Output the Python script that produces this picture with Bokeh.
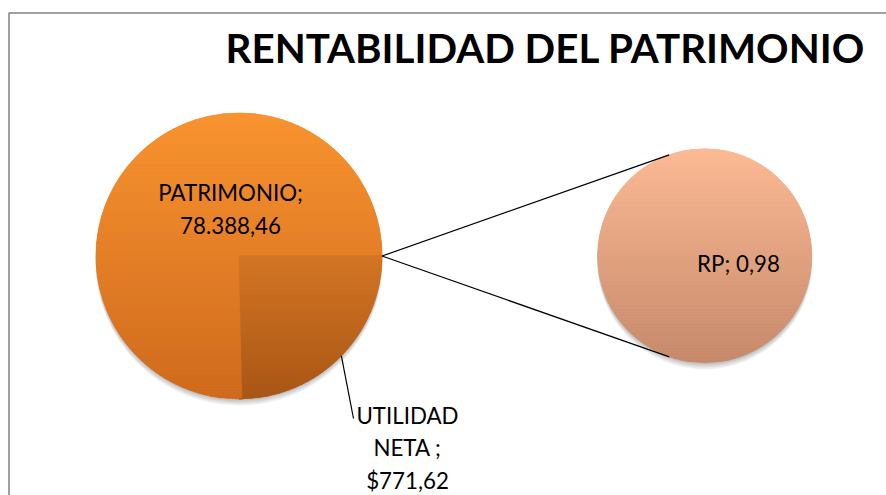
import numpy as np
from bokeh.plotting import figure
from bokeh.models import Range1d
from bokeh.core.properties import value
from bokeh.embed import file_html
from bokeh.resources import INLINE

# ---------------- data ----------------
title = "RENTABILIDAD DEL PATRIMONIO"
main_names = ["PATRIMONIO", "UTILIDAD NETA"]
main_values = [78388.46, 771.62]
main_prefix = ["", "$"]
main_shares = [0.754, 0.246]          # slice sizes as drawn in the picture
sec_names = ["RP"]
sec_values = [0.98]


def fmt(v):
    s = f"{v:,.2f}"
    return s.replace(",", "X").replace(".", ",").replace("X", ".")


# ---------------- layout ----------------
W, H = 886, 495
cx1, cy1, r1 = 238.5, H - 255.5, 143.0
cx2, cy2, r2 = 704.2, H - 255.3, 107.0
FONT = "Lato"

p = figure(width=W, height=H, output_backend="svg", toolbar_location=None,
           x_range=Range1d(0, W), y_range=Range1d(0, H), min_border=0)
p.axis.visible = False
p.grid.visible = False
p.outline_line_color = None
p.background_fill_color = "white"
p.border_fill_color = "white"

# chart border (left and top edges visible)
p.line(x=[8.5, 8.5, W], y=[0, H - 12.5, H - 12.5], line_color="#a0a0a0", line_width=2)


def hexcol(c):
    return "#%02x%02x%02x" % tuple(int(round(v)) for v in c)


def lerp(c0, c1, t):
    return [c0[i] + (c1[i] - c0[i]) * t for i in range(3)]


# shadows
for cx, cy, r in [(cx1, cy1, r1), (cx2, cy2, r2)]:
    for k in range(1, 8):
        p.circle(x=[cx], y=[cy - k * 0.9], radius=r + 0.5, fill_color="black",
                 fill_alpha=0.035, line_color=None)

# base wedges from the data shares
ang = np.concatenate([[0], np.cumsum(main_shares)]) * 2 * np.pi
base_cols = ["#e6812a", "#c66a1f"]
for i in range(len(main_shares)):
    p.wedge(x=[cx1], y=[cy1], radius=r1, start_angle=ang[i], end_angle=ang[i + 1],
            fill_color=base_cols[i], line_color=None)
p.circle(x=[cx2], y=[cy2], radius=r2, fill_color="#e4a27f", line_color=None)

# gradient strips for the main pie
top_main, bot_main = (249, 148, 48), (207, 106, 30)
top_dark, bot_dark = (255, 150, 50), (168, 86, 22)
a_b = ang[1]  # boundary ray between slice 0 and slice 1 (below center)
step = 1.5
xs, ys, cols = [], [], []
yy = np.arange(cy1 - r1, cy1 + r1, step)
for y0 in yy:
    y1 = min(y0 + step, cy1 + r1)
    c0 = np.sqrt(max(r1 ** 2 - (y0 - cy1) ** 2, 0))
    c1 = np.sqrt(max(r1 ** 2 - (y1 - cy1) ** 2, 0))
    t = 1 - ((y0 + y1) / 2 - (cy1 - r1)) / (2 * r1)
    cm = hexcol(lerp(top_main, bot_main, t))
    cd = hexcol(lerp(top_dark, bot_dark, t))
    if y0 >= cy1:
        xs.append([cx1 - c0, cx1 + c0, cx1 + c1, cx1 - c1])
        ys.append([y0, y0, y1, y1])
        cols.append(cm)
    else:
        d0, d1 = cy1 - y0, cy1 - y1
        k = np.cos(a_b) / (-np.sin(a_b))
        b0, b1 = cx1 + d0 * k, cx1 + max(d1, 0) * k
        xs.append([cx1 - c0, b0, b1, cx1 - c1])
        ys.append([y0, y0, y1, y1])
        cols.append(cm)
        xs.append([b0, cx1 + c0, cx1 + c1, b1])
        ys.append([y0, y0, y1, y1])
        cols.append(cd)
p.patches(xs=xs, ys=ys, fill_color=cols, line_color=cols, line_width=0.6)

# gradient strips for the secondary pie
top_sec, bot_sec = (253, 187, 150), (197, 137, 107)
xs, ys, cols = [], [], []
for y0 in np.arange(cy2 - r2, cy2 + r2, step):
    y1 = min(y0 + step, cy2 + r2)
    c0 = np.sqrt(max(r2 ** 2 - (y0 - cy2) ** 2, 0))
    c1 = np.sqrt(max(r2 ** 2 - (y1 - cy2) ** 2, 0))
    t = 1 - ((y0 + y1) / 2 - (cy2 - r2)) / (2 * r2)
    c = hexcol(lerp(top_sec, bot_sec, t))
    xs.append([cx2 - c0, cx2 + c0, cx2 + c1, cx2 - c1])
    ys.append([y0, y0, y1, y1])
    cols.append(c)
p.patches(xs=xs, ys=ys, fill_color=cols, line_color=cols, line_width=0.6)

# connector lines (tangent from the edge of the slice to the secondary pie)
Px, Py = cx1 + r1 * np.cos(ang[0]), cy1 + r1 * np.sin(ang[0])
d = np.hypot(Px - cx2, Py - cy2)
phi = np.arctan2(Py - cy2, Px - cx2)
th = np.arccos(r2 / d)
for s in (1, -1):
    tx, ty = cx2 + r2 * np.cos(phi + s * th), cy2 + r2 * np.sin(phi + s * th)
    p.line(x=[Px, tx], y=[Py, ty], line_color="black", line_width=1.3)

# leader line for the small slice
a_mid = (ang[1] + ang[2]) / 2
p.line(x=[cx1 + r1 * np.cos(a_mid), 353], y=[cy1 + r1 * np.sin(a_mid), H - 418],
       line_color="black", line_width=1.2)

# ---------------- texts ----------------
p.text(x=[545], y=[H - 47], text=[title], text_font=value(FONT), text_font_style="bold",
       text_font_size="40.3px", text_align="center", text_baseline="middle",
       text_color="black")

lab_size = "22.3px"
pat_lines = [main_names[0] + ";", main_prefix[0] + fmt(main_values[0])]
p.text(x=[230, 230], y=[H - 191.7, H - 225], text=pat_lines, text_font=value(FONT),
       text_font_size=lab_size, text_align="center", text_baseline="middle",
       text_color="black")

util_words = main_names[1].split()
util_lines = [util_words[0], util_words[1] + " ;", main_prefix[1] + fmt(main_values[1])]
p.text(x=[407, 407, 407], y=[H - 415, H - 447, H - 480], text=util_lines,
       text_font=value(FONT), text_font_size=lab_size, text_align="center",
       text_baseline="middle", text_color="black")

p.text(x=[738], y=[H - 262.5], text=[f"{sec_names[0]}; {fmt(sec_values[0])}"],
       text_font=value(FONT), text_font_size=lab_size, text_align="center",
       text_baseline="middle", text_color="black")

open("out.html", "w").write(file_html(p, INLINE))
